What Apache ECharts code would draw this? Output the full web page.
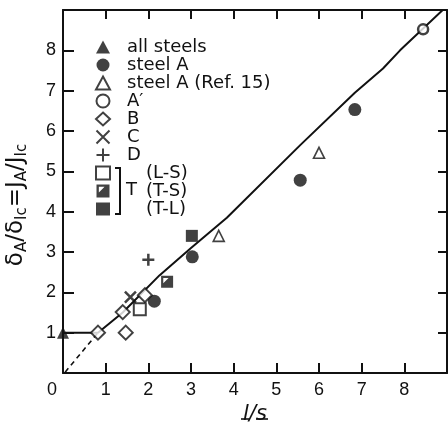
<!DOCTYPE html>
<html>
<head>
<meta charset="utf-8">
<script src="https://cdn.jsdelivr.net/npm/echarts@6/dist/echarts.min.js"></script>
<style>
  html, body { margin: 0; padding: 0; background: #fff; }
  #chart { width: 448px; height: 423px; }
</style>
</head>
<body>
<div id="chart"></div>
<script>
// values (x = l/s, y = deltaA/deltaIc)
var allSteels = [[0, 1.0]];
var steelA = [[2.14, 1.78], [3.03, 2.88], [5.56, 4.78], [6.84, 6.53]];
var steelARef15 = [[3.65, 3.4], [6.0, 5.46]];
var aPrime = [[8.44, 8.52]];
var steelB = [[0.82, 1.0], [1.4, 1.51], [1.47, 1.0], [1.92, 1.93]];
var steelC = [[1.58, 1.88]];
var steelD = [[2.0, 2.81]];
var tLS = [[1.8, 1.58]];
var tTS = [[2.44, 2.26]];
var tTL = [[3.02, 3.4]];
var trendLine = [[0, 1.0], [0.82, 1.0], [1.4, 1.5], [2.26, 2.42], [3.0, 3.1], [3.84, 3.85],
  [5.56, 5.65], [6.84, 6.95], [7.5, 7.55], [7.9, 8.0], [8.95, 9.05]];
var dashLine = [[0.05, 0.02], [0.82, 1.0]];
var xTicks = [0, 1, 2, 3, 4, 5, 6, 7, 8];
var yTicks = [1, 2, 3, 4, 5, 6, 7, 8];

var ink = '#111';
var fontFam = '"Liberation Sans", Arial, Helvetica, sans-serif';
var wideFam = '"DejaVu Sans", Verdana, sans-serif';
var halfSquare = 'path://M0,0L10,0L10,10L0,10Z M1.8,1.8L1.8,6.2L6.2,1.8Z';
var crossX = 'path://M0,0L10,10M10,0L0,10';
var crossPlus = 'path://M5,0L5,10M0,5L10,5';

var myChart = echarts.init(document.getElementById('chart'));

function pts(name, data, symbol, size, style) {
  return {
    type: 'scatter',
    name: name,
    data: data,
    symbol: symbol,
    symbolSize: size,
    clip: false,
    z: 5,
    itemStyle: style
  };
}
var solid = { color: ink };
var hollow = { color: '#fff', borderColor: ink, borderWidth: 2 };
var stroke = { color: 'none', borderColor: ink, borderWidth: 2.5 };

function frameAxis(pos) {
  return {
    type: 'value', min: 0, max: 9, interval: 1, position: pos,
    axisLine: { show: true, onZero: false, lineStyle: { color: ink, width: 2 } },
    axisTick: { show: true, inside: true, length: 9, lineStyle: { color: ink, width: 2 } },
    axisLabel: { show: false },
    splitLine: { show: false }
  };
}

var option = {
  backgroundColor: '#fff',
  animation: false,
  textStyle: { fontFamily: fontFam, color: ink },
  grid: { left: 63, right: 1, top: 10, bottom: 50, outerBoundsMode: 'none', containLabel: false },
  legend: {
    orient: 'vertical',
    left: 89,
    top: 33,
    itemWidth: 14,
    itemHeight: 13,
    itemGap: 0,
    textStyle: {
      fontSize: 18, color: ink, fontFamily: wideFam, lineHeight: 16, padding: [0, 0, 0, 12],
      rich: { p: { fontSize: 18, color: ink, fontFamily: wideFam, lineHeight: 16, padding: [0, 0, 0, 19] } }
    },
    formatter: function (name) {
      if (name.charAt(0) == '(') {
        return '{p|' + name + '}';
      }
      return name;
    },
    data: ['all steels', 'steel A', 'steel A (Ref. 15)', 'A\u2032', 'B', 'C', 'D', '(L-S)', '(T-S)', '(T-L)']
  },
  xAxis: [
    {
      type: 'value', min: 0, max: 9, interval: 1, position: 'bottom',
      axisLine: { onZero: false, lineStyle: { color: ink, width: 2 } },
      axisTick: { inside: true, length: 10, lineStyle: { color: ink, width: 2 } },
      splitLine: { show: false },
      axisLabel: {
        margin: 8, fontSize: 18, color: ink, fontFamily: fontFam,
        formatter: function (v) {
          if (xTicks.indexOf(v) < 0) return '';
          if (v === 0) return '{z|0}';
          return '' + v;
        },
        rich: { z: { fontSize: 18, color: ink, fontFamily: fontFam, padding: [0, 22, 0, 0] } }
      },
      name: 'l/s',
      nameLocation: 'middle',
      nameGap: 22,
      nameTextStyle: { fontSize: 21, fontStyle: 'italic', color: ink, fontFamily: wideFam }
    },
    frameAxis('top')
  ],
  yAxis: [
    {
      type: 'value', min: 0, max: 9, interval: 1, position: 'left',
      axisLine: { show: true, onZero: false, lineStyle: { color: ink, width: 2 } },
      axisTick: { show: true, inside: true, length: 11, lineStyle: { color: ink, width: 2 } },
      splitLine: { show: false },
      axisLabel: {
        margin: 7, fontSize: 18, color: ink, fontFamily: fontFam,
        formatter: function (v) { return yTicks.indexOf(v) < 0 ? '' : '' + v; }
      },
      name: '{d|\u03b4}{s|A}{d|/\u03b4}{s|Ic}{d|=J}{s|A}{d|/J}{s|Ic}',
      nameLocation: 'middle',
      nameRotate: 90,
      nameGap: 33,
      nameTextStyle: {
        color: ink,
        padding: [0, 27, 0, 0],
        rich: {
          d: { fontSize: 23, color: ink, fontFamily: wideFam },
          s: { fontSize: 15, color: ink, fontFamily: wideFam, padding: [12, 0, 0, 0] }
        }
      }
    },
    frameAxis('right')
  ],
  series: [
    {
      type: 'line', name: 'trend', data: trendLine, showSymbol: false, symbol: 'none',
      lineStyle: { color: ink, width: 2 }, z: 2, silent: true
    },
    {
      type: 'line', name: 'trend0', data: dashLine, showSymbol: false, symbol: 'none',
      lineStyle: { color: ink, width: 1.6, type: [5, 4] }, z: 2, silent: true
    },
    pts('all steels', allSteels, 'triangle', 12, solid),
    pts('steel A', steelA, 'circle', 13, solid),
    pts('steel A (Ref. 15)', steelARef15, 'triangle', 11, { color: '#fff', borderColor: ink, borderWidth: 1.6 }),
    pts('A\u2032', aPrime, 'circle', 10, { color: '#fff', borderColor: ink, borderWidth: 2.5 }),
    pts('B', steelB, 'diamond', 14, hollow),
    pts('C', steelC, crossX, 11, stroke),
    pts('D', steelD, crossPlus, 12, stroke),
    pts('(L-S)', tLS, 'rect', 12, hollow),
    pts('(T-S)', tTS, halfSquare, 12, solid),
    pts('(T-L)', tTL, 'rect', 12, solid)
  ],
  graphic: [
    {
      type: 'polyline', z: 10,
      shape: { points: [[115, 168], [120, 168], [120, 214], [115, 214]] },
      style: { stroke: ink, lineWidth: 2, fill: null }
    },
    {
      type: 'text', z: 10, left: 126, top: 181,
      style: { text: 'T', fontSize: 18, fill: ink, fontFamily: wideFam }
    },
    // underlines of the vector symbols in the axis name
    { type: 'line', z: 10, shape: { x1: 241, y1: 419, x2: 250, y2: 419 }, style: { stroke: ink, lineWidth: 1.6 } },
    { type: 'line', z: 10, shape: { x1: 256, y1: 419, x2: 268, y2: 419 }, style: { stroke: ink, lineWidth: 1.6 } }
  ]
};

myChart.setOption(option);
</script>
</body>
</html>
